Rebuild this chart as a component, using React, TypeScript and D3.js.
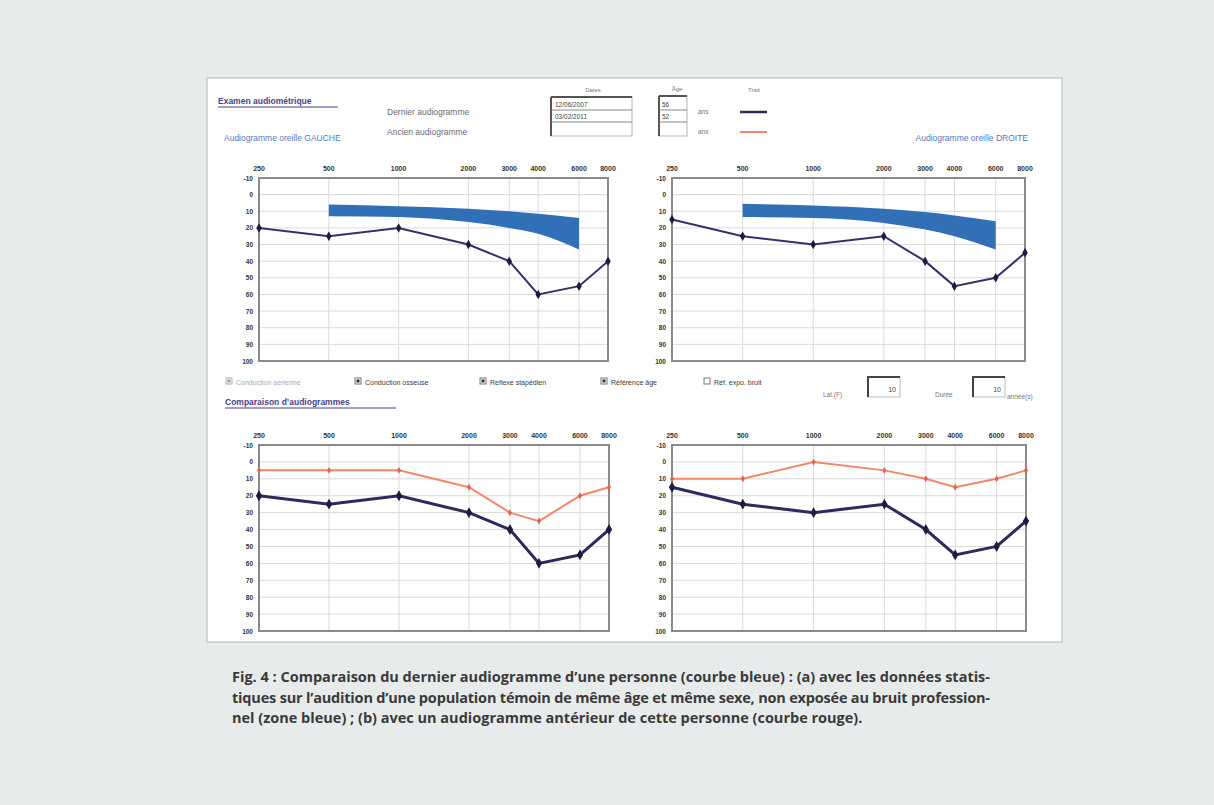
import React, { useEffect, useRef } from 'react';
import * as d3 from 'd3';

const WIDTH = 1214;
const HEIGHT = 805;

// audiogram axes
const frequencies = [250, 500, 1000, 2000, 3000, 4000, 6000, 8000];
const dbTicks = [-10, 0, 10, 20, 30, 40, 50, 60, 70, 80, 90, 100];

// last audiogram (blue curve), dB HL
const leftLatest = [20, 25, 20, 30, 40, 60, 55, 40];
const rightLatest = [15, 25, 30, 25, 40, 55, 50, 35];

// previous audiogram (red curve)
const leftPrevious = [5, 5, 5, 15, 30, 35, 20, 15];
const rightPrevious = [10, 10, 0, 5, 10, 15, 10, 5];

// age reference band (blue zone)
const bandFrequencies = [500, 1000, 2000, 3000, 4000, 6000];
const leftBandLow = [6, 7, 8.5, 10, 11.5, 14];
const leftBandHigh = [13, 13.5, 16.5, 20, 23.5, 33];
const rightBandLow = [5.5, 6.5, 8.5, 10.5, 12.5, 16];
const rightBandHigh = [13.5, 14, 17, 21, 25, 33];

// checkboxes under the top charts
const legendLabels = ['Conduction aérienne', 'Conduction osseuse', 'Reflexe stapédien', 'Référence âge', 'Réf. expo. bruit'];
const legendChecked = [true, true, true, true, false];

const captionLines = [
  'Fig. 4 : Comparaison du dernier audiogramme d’une personne (courbe bleue) : (a) avec les données statis-',
  'tiques sur l’audition d’une population témoin de même âge et même sexe, non exposée au bruit profession-',
  'nel (zone bleue) ; (b) avec un audiogramme antérieur de cette personne (courbe rouge).',
];

const SMALL_FONT = '"Liberation Sans", Arial, sans-serif';
const NAVY = '#2c2a5f';
const SALMON = '#f2876b';
const BAND = '#3170b6';

const drawPanel = (svg, opts) => {
  const { x0, x1, y0, y1, latest, previous, bandLow, bandHigh, thick } = opts;
  const x = d3.scaleLog().domain([250, 8000]).range([x0, x1]);
  const y = d3.scaleLinear().domain([-10, 100]).range([y0, y1]);
  const g = svg.append('g');

  g.append('rect')
    .attr('x', x0)
    .attr('y', y0)
    .attr('width', x1 - x0)
    .attr('height', y1 - y0)
    .attr('fill', '#ffffff');

  // grid
  g.selectAll('.hgrid')
    .data(dbTicks.slice(1, -1))
    .enter()
    .append('line')
    .attr('x1', x0)
    .attr('x2', x1)
    .attr('y1', (d) => y(d))
    .attr('y2', (d) => y(d))
    .attr('stroke', '#dadada')
    .attr('stroke-width', 1);

  g.selectAll('.vgrid')
    .data(frequencies.slice(1, -1))
    .enter()
    .append('line')
    .attr('x1', (d) => x(d))
    .attr('x2', (d) => x(d))
    .attr('y1', y0)
    .attr('y2', y1)
    .attr('stroke', '#dadada')
    .attr('stroke-width', 1);

  // frame
  g.append('rect')
    .attr('x', x0)
    .attr('y', y0)
    .attr('width', x1 - x0)
    .attr('height', y1 - y0)
    .attr('fill', 'none')
    .attr('stroke', '#8a8a8a')
    .attr('stroke-width', 2);

  // frequency labels (top)
  g.selectAll('.xlab')
    .data(frequencies)
    .enter()
    .append('text')
    .attr('x', (d) => x(d))
    .attr('y', y0 - 7)
    .attr('text-anchor', 'middle')
    .style('font-family', SMALL_FONT)
    .style('font-size', '7px')
    .style('font-weight', 'bold')
    .style('fill', '#333')
    .text((d) => d);

  // dB labels (left)
  g.selectAll('.ylab')
    .data(dbTicks)
    .enter()
    .append('text')
    .attr('x', x0 - 6)
    .attr('y', (d) => y(d) + 2.5)
    .attr('text-anchor', 'end')
    .style('font-family', SMALL_FONT)
    .style('font-size', '6.5px')
    .style('font-weight', 'bold')
    .style('fill', '#333')
    .text((d) => d);

  if (bandLow) {
    const band = bandFrequencies.map((f, i) => ({ f, lo: bandLow[i], hi: bandHigh[i] }));
    const area = d3
      .area()
      .x((d) => x(d.f))
      .y0((d) => y(d.lo))
      .y1((d) => y(d.hi))
      .curve(d3.curveMonotoneX);
    g.append('path').datum(band).attr('d', area).attr('fill', BAND);
  }

  const line = d3
    .line()
    .x((d) => x(d.f))
    .y((d) => y(d.v));

  if (previous) {
    const pts = frequencies.map((f, i) => ({ f, v: previous[i] }));
    g.append('path')
      .datum(pts)
      .attr('d', line)
      .attr('fill', 'none')
      .attr('stroke', SALMON)
      .attr('stroke-width', 2);
    g.selectAll('.prev-pt')
      .data(pts)
      .enter()
      .append('path')
      .attr('d', d3.symbol().type(d3.symbolDiamond).size(14))
      .attr('transform', (d) => `translate(${x(d.f)},${y(d.v)})`)
      .attr('fill', '#e0664a');
  }

  const pts = frequencies.map((f, i) => ({ f, v: latest[i] }));
  g.append('path')
    .datum(pts)
    .attr('d', line)
    .attr('fill', 'none')
    .attr('stroke', thick ? NAVY : '#3a2f6c')
    .attr('stroke-width', thick ? 3 : 2);
  g.selectAll('.last-pt')
    .data(pts)
    .enter()
    .append('path')
    .attr('d', d3.symbol().type(d3.symbolDiamond).size(thick ? 34 : 26))
    .attr('transform', (d) => `translate(${x(d.f)},${y(d.v)})`)
    .attr('fill', '#1d1b40');
};

const smallText = (svg, x, y, text, opts = {}) =>
  svg
    .append('text')
    .attr('x', x)
    .attr('y', y)
    .attr('text-anchor', opts.anchor || 'start')
    .style('font-family', SMALL_FONT)
    .style('font-size', opts.size || '7px')
    .style('font-weight', opts.bold ? 'bold' : 'normal')
    .style('fill', opts.color || '#555')
    .text(text);

const AudiogramFigure = () => {
  const ref = useRef(null);

  useEffect(() => {
    if (!ref.current) return;
    d3.select(ref.current).selectAll('*').remove();

    const svg = d3
      .select(ref.current)
      .append('svg')
      .attr('width', WIDTH)
      .attr('height', HEIGHT)
      .style('position', 'absolute')
      .style('left', 0)
      .style('top', 0);

    // page background and white sheet
    svg.append('rect').attr('width', WIDTH).attr('height', HEIGHT).attr('fill', '#e8ebeb');
    svg.append('rect')
      .attr('x', 207)
      .attr('y', 78)
      .attr('width', 855)
      .attr('height', 564)
      .attr('fill', '#ffffff')
      .attr('stroke', '#c9cbcb')
      .attr('stroke-width', 1.5);

    // header
    smallText(svg, 218, 104, 'Examen audiométrique', { size: '8.5px', bold: true, color: '#4a3f8a' });
    svg.append('line').attr('x1', 218).attr('x2', 338).attr('y1', 107).attr('y2', 107).attr('stroke', '#4a3f8a').attr('stroke-width', 1);
    smallText(svg, 224, 141, 'Audiogramme oreille GAUCHE', { size: '8.5px', color: '#5a78b8' });
    smallText(svg, 1028, 141, 'Audiogramme oreille DROITE', { size: '8.5px', color: '#5a78b8', anchor: 'end' });
    smallText(svg, 387, 115, 'Dernier audiogramme', { size: '8.5px', color: '#6a6a7a' });
    smallText(svg, 387, 135, 'Ancien audiogramme', { size: '8.5px', color: '#6a6a7a' });

    // dates box
    smallText(svg, 593, 92, 'Dates', { size: '6px', anchor: 'middle', color: '#777' });
    svg.append('rect').attr('x', 551).attr('y', 97).attr('width', 81).attr('height', 39).attr('fill', '#fff').attr('stroke', '#b5b5b5');
    svg.append('line').attr('x1', 551).attr('x2', 551).attr('y1', 97).attr('y2', 136).attr('stroke', '#555').attr('stroke-width', 2);
    svg.append('line').attr('x1', 551).attr('x2', 632).attr('y1', 97).attr('y2', 97).attr('stroke', '#555').attr('stroke-width', 2);
    svg.append('line').attr('x1', 551).attr('x2', 632).attr('y1', 110).attr('y2', 110).attr('stroke', '#888');
    svg.append('line').attr('x1', 551).attr('x2', 632).attr('y1', 122).attr('y2', 122).attr('stroke', '#888');
    smallText(svg, 555, 107, '12/06/2007', { size: '6.5px', color: '#444' });
    smallText(svg, 555, 119, '03/02/2011', { size: '6.5px', color: '#444' });

    // age box
    smallText(svg, 677, 91, 'Âge', { size: '6px', anchor: 'middle', color: '#777' });
    svg.append('rect').attr('x', 659).attr('y', 96).attr('width', 28).attr('height', 40).attr('fill', '#fff').attr('stroke', '#b5b5b5');
    svg.append('line').attr('x1', 659).attr('x2', 659).attr('y1', 96).attr('y2', 136).attr('stroke', '#555').attr('stroke-width', 2);
    svg.append('line').attr('x1', 659).attr('x2', 687).attr('y1', 96).attr('y2', 96).attr('stroke', '#555').attr('stroke-width', 2);
    svg.append('line').attr('x1', 659).attr('x2', 687).attr('y1', 110).attr('y2', 110).attr('stroke', '#888');
    svg.append('line').attr('x1', 659).attr('x2', 687).attr('y1', 122).attr('y2', 122).attr('stroke', '#888');
    smallText(svg, 662, 107, '56', { size: '6.5px', color: '#444' });
    smallText(svg, 662, 119, '52', { size: '6.5px', color: '#444' });
    smallText(svg, 698, 114, 'ans', { size: '6.5px', color: '#777' });
    smallText(svg, 698, 134, 'ans', { size: '6.5px', color: '#777' });

    // line keys
    smallText(svg, 754, 92, 'Trait', { size: '6px', anchor: 'middle', color: '#777' });
    svg.append('line').attr('x1', 740).attr('x2', 767).attr('y1', 112).attr('y2', 112).attr('stroke', NAVY).attr('stroke-width', 2.5);
    svg.append('line').attr('x1', 740).attr('x2', 767).attr('y1', 132).attr('y2', 132).attr('stroke', SALMON).attr('stroke-width', 2);

    // the four audiograms
    drawPanel(svg, { x0: 259, x1: 608, y0: 178, y1: 361, latest: leftLatest, bandLow: leftBandLow, bandHigh: leftBandHigh });
    drawPanel(svg, { x0: 672, x1: 1025, y0: 178, y1: 361, latest: rightLatest, bandLow: rightBandLow, bandHigh: rightBandHigh });
    drawPanel(svg, { x0: 259, x1: 609, y0: 445, y1: 631, latest: leftLatest, previous: leftPrevious, thick: true });
    drawPanel(svg, { x0: 672, x1: 1026, y0: 445, y1: 631, latest: rightLatest, previous: rightPrevious, thick: true });

    // checkbox legend
    const legendX = [226, 355, 480, 601, 704];
    legendLabels.forEach((label, i) => {
      const lx = legendX[i];
      const faded = i === 0;
      svg.append('rect')
        .attr('x', lx)
        .attr('y', 378)
        .attr('width', 6)
        .attr('height', 6)
        .attr('fill', '#fff')
        .attr('stroke', faded ? '#aaa' : '#777');
      if (legendChecked[i]) {
        svg.append('rect')
          .attr('x', lx + 1.5)
          .attr('y', 379.5)
          .attr('width', 3)
          .attr('height', 3)
          .attr('fill', faded ? '#999' : '#333');
      }
      smallText(svg, lx + 10, 385, label, { size: '7px', color: faded ? '#a9a9b5' : '#3a3a3a' });
    });

    smallText(svg, 823, 397, 'Lat.(F)', { size: '6.5px', color: '#777' });
    svg.append('rect').attr('x', 868).attr('y', 377).attr('width', 32).attr('height', 20).attr('fill', '#fff').attr('stroke', '#bbb');
    svg.append('path').attr('d', 'M868,397V377H900').attr('fill', 'none').attr('stroke', '#444').attr('stroke-width', 2);
    smallText(svg, 896, 392, '10', { size: '7px', anchor: 'end', color: '#444' });
    smallText(svg, 935, 397, 'Durée', { size: '6.5px', color: '#777' });
    svg.append('rect').attr('x', 973).attr('y', 377).attr('width', 32).attr('height', 20).attr('fill', '#fff').attr('stroke', '#bbb');
    svg.append('path').attr('d', 'M973,397V377H1005').attr('fill', 'none').attr('stroke', '#444').attr('stroke-width', 2);
    smallText(svg, 1001, 392, '10', { size: '7px', anchor: 'end', color: '#444' });
    smallText(svg, 1007, 399, 'année(s)', { size: '6.5px', color: '#777' });

    smallText(svg, 225, 405, 'Comparaison d’audiogrammes', { size: '8.5px', bold: true, color: '#4a3f8a' });
    svg.append('line').attr('x1', 225).attr('x2', 396).attr('y1', 408).attr('y2', 408).attr('stroke', '#4a3f8a').attr('stroke-width', 1);

    // caption (first two lines justified)
    svg.selectAll('.caption')
      .data(captionLines)
      .enter()
      .append('text')
      .attr('x', 232)
      .attr('y', (d, i) => 682 + i * 20.5)
      .attr('textLength', (d, i) => (i < 2 ? 758 : null))
      .attr('lengthAdjust', 'spacing')
      .style('font-family', '"Open Sans", Lato, sans-serif')
      .style('font-size', '14.5px')
      .style('font-weight', 'bold')
      .style('fill', '#3a3a3a')
      .text((d) => d);
  }, []);

  return <div ref={ref}></div>;
};

export default function App() {
  return <AudiogramFigure />;
}
